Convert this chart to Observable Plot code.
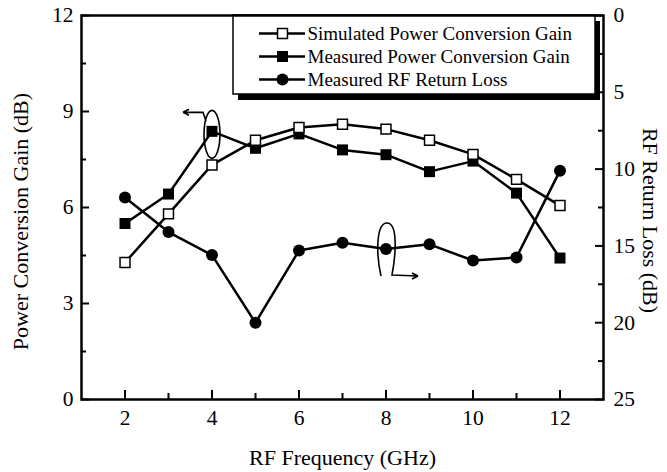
<!DOCTYPE html>
<html><head><meta charset="utf-8">
<script src="https://cdn.jsdelivr.net/npm/d3@7"></script>
<script src="https://cdn.jsdelivr.net/npm/@observablehq/plot@0.6"></script>
<style>body{margin:0;background:#fff;} #chart{width:667px;height:472px;}</style>
</head><body><div id="chart"></div>
<script>
// ---- data ----
const freq = [2, 3, 4, 5, 6, 7, 8, 9, 10, 11, 12];
const simulatedGain = [4.28, 5.8, 7.33, 8.1, 8.5, 8.6, 8.45, 8.1, 7.66, 6.88, 6.06];
const measuredGain = [5.5, 6.42, 8.38, 7.85, 8.3, 7.8, 7.65, 7.12, 7.45, 6.45, 4.42];
const returnLoss = [11.85, 14.1, 15.6, 20.0, 15.3, 14.8, 15.2, 14.9, 15.95, 15.75, 10.1];
const legendLabels = ["Simulated Power Conversion Gain", "Measured Power Conversion Gain", "Measured RF Return Loss"];
const xTickLabels = [2, 4, 6, 8, 10, 12];
const xMinorTicks = [3, 5, 7, 9, 11];
const leftTickLabels = [0, 3, 6, 9, 12];
const leftMinorTicks = [1.5, 4.5, 7.5, 10.5];
const rightTickLabels = [0, 5, 10, 15, 20, 25];
const rightMinorTicks = [2.5, 7.5, 12.5, 17.5, 22.5];

// ---- layout ----
const W = 667, H = 472, mL = 81, mR = 64, mT = 15, mB = 73;
const innerW = W - mL - mR, innerH = H - mT - mB;
const xDom = [1, 13], yDom = [0, 12], rlDom = [0, 25];
const px2x = px => xDom[0] + (px - mL) / innerW * (xDom[1] - xDom[0]);
const py2y = py => yDom[1] - (py - mT) / innerH * (yDom[1] - yDom[0]);
// right axis (return loss, reversed) mapped onto left y units
const toLeft = rl => yDom[1] - rl / rlDom[1] * yDom[1];
const fromLeft = g => (yDom[1] - g) / yDom[1] * rlDom[1];

const table = freq.map((f, i) => ({freq: f, sim: simulatedGain[i], meas: measuredGain[i], rl: returnLoss[i]}));
const legend = legendLabels.map((label, i) => ({label, row: [33, 56, 79][i], kind: i}));

function ellipse(ctx, cx, cy, rx, ry) {
  const k = 0.5523;
  ctx.moveTo(cx + rx, cy);
  ctx.bezierCurveTo(cx + rx, cy + k * ry, cx + k * rx, cy + ry, cx, cy + ry);
  ctx.bezierCurveTo(cx - k * rx, cy + ry, cx - rx, cy + k * ry, cx - rx, cy);
  ctx.bezierCurveTo(cx - rx, cy - k * ry, cx - k * rx, cy - ry, cx, cy - ry);
  ctx.bezierCurveTo(cx + k * rx, cy - ry, cx + rx, cy - k * ry, cx + rx, cy);
}
const leftAnnot = {draw(ctx) {
  ellipse(ctx, 0, 3, 8, 24);
  ctx.moveTo(-6, -10); ctx.lineTo(-9, -19); ctx.lineTo(-29, -19);
  ctx.moveTo(-29, -19); ctx.lineTo(-23, -22);
  ctx.moveTo(-29, -19); ctx.lineTo(-23, -16);
}};
const rightAnnot = {draw(ctx) {
  ctx.moveTo(-5, 27);
  ctx.bezierCurveTo(-10, 5, -10, -26, 1, -26);
  ctx.bezierCurveTo(12, -26, 10, 5, 6, 26);
  ctx.lineTo(32, 27);
  ctx.moveTo(32, 27); ctx.lineTo(26, 24);
  ctx.moveTo(32, 27); ctx.lineTo(26, 30);
}};

const lw = 2.5;
const chart = Plot.plot({
  width: W, height: H,
  marginLeft: mL, marginRight: mR, marginTop: mT, marginBottom: mB,
  x: {domain: xDom},
  y: {domain: yDom},
  style: {fontFamily: "'Liberation Serif', 'Times New Roman', serif", fontSize: "21px", color: "black", background: "white"},
  marks: [
    // ticks (inward)
    Plot.tickX(xTickLabels, {x: d => d, insetTop: innerH - 9, strokeWidth: 2}),
    Plot.tickX(xMinorTicks, {x: d => d, insetTop: innerH - 6, strokeWidth: 2}),
    Plot.tickY(leftTickLabels, {y: d => d, insetRight: innerW - 8, strokeWidth: 2}),
    Plot.tickY(leftMinorTicks, {y: d => d, insetRight: innerW - 5, strokeWidth: 2}),
    Plot.tickY(rightTickLabels.map(toLeft), {y: d => d, insetLeft: innerW - 8, strokeWidth: 2}),
    Plot.tickY(rightMinorTicks.map(toLeft), {y: d => d, insetLeft: innerW - 5, strokeWidth: 2}),
    // tick labels
    Plot.axisX(xTickLabels, {tickSize: 0, tickPadding: 10, label: null, fontSize: 21.5}),
    Plot.axisY(leftTickLabels, {anchor: "left", tickSize: 0, tickPadding: 8, label: null, fontSize: 21.5}),
    Plot.axisY(rightTickLabels.map(toLeft), {anchor: "right", tickSize: 0, tickPadding: 10, label: null, fontSize: 21.5,
      tickFormat: d => String(Math.round(fromLeft(d)))}),
    // axis titles
    Plot.text(["RF Frequency (GHz)"], {frameAnchor: "bottom", textAnchor: "middle", lineAnchor: "middle", dy: 58, fontSize: 22}),
    Plot.text(["Power Conversion Gain (dB)"], {frameAnchor: "left", textAnchor: "middle", lineAnchor: "middle", dx: -61, dy: 14, rotate: -90, fontSize: 22}),
    Plot.text(["RF Return Loss (dB)"], {frameAnchor: "right", textAnchor: "middle", lineAnchor: "middle", dx: 47, dy: 13, rotate: 90, fontSize: 22}),
    // data lines
    Plot.line(table, {x: "freq", y: "sim", stroke: "black", strokeWidth: lw}),
    Plot.line(table, {x: "freq", y: "meas", stroke: "black", strokeWidth: lw}),
    Plot.line(table, {x: "freq", y: d => toLeft(d.rl), stroke: "black", strokeWidth: lw}),
    // markers
    Plot.dot(table, {x: "freq", y: d => toLeft(d.rl), r: 6, fill: "black"}),
    Plot.dot(table, {x: "freq", y: "meas", symbol: "square", r: 6.2, fill: "black"}),
    Plot.dot(table, {x: "freq", y: "sim", symbol: "square", r: 5.6, fill: "white", stroke: "black", strokeWidth: 1.5}),
    // annotations
    Plot.dot(table.filter(d => d.freq === 4), {x: "freq", y: "meas", symbol: leftAnnot, fill: "none", stroke: "black", strokeWidth: 1.6}),
    Plot.dot(table.filter(d => d.freq === 8), {x: "freq", y: d => toLeft(d.rl), symbol: rightAnnot, fill: "none", stroke: "black", strokeWidth: 1.6}),
    // legend
    Plot.rect([0], {x1: px2x(233), x2: px2x(595), y1: py2y(94), y2: py2y(15), dx: 5, dy: 6, fill: "black"}),
    Plot.rect([0], {x1: px2x(233), x2: px2x(595), y1: py2y(94), y2: py2y(15), fill: "white", stroke: "black", strokeWidth: 1.5}),
    Plot.ruleY(legend, {y: d => py2y(d.row), x1: px2x(259), x2: px2x(305), stroke: "black", strokeWidth: lw}),
    Plot.dot(legend.filter(d => d.kind === 0), {x: px2x(282), y: d => py2y(d.row), symbol: "square", r: 5.6, fill: "white", stroke: "black", strokeWidth: 1.5}),
    Plot.dot(legend.filter(d => d.kind === 1), {x: px2x(282), y: d => py2y(d.row), symbol: "square", r: 6.2, fill: "black"}),
    Plot.dot(legend.filter(d => d.kind === 2), {x: px2x(282), y: d => py2y(d.row), r: 6, fill: "black"}),
    Plot.text(legend, {x: px2x(307), y: d => py2y(d.row), text: "label", textAnchor: "start", fontSize: 19}),
    // frame
    Plot.frame({stroke: "black", strokeWidth: 2.5})
  ]
});
document.getElementById("chart").appendChild(chart);
</script>
</body></html>
